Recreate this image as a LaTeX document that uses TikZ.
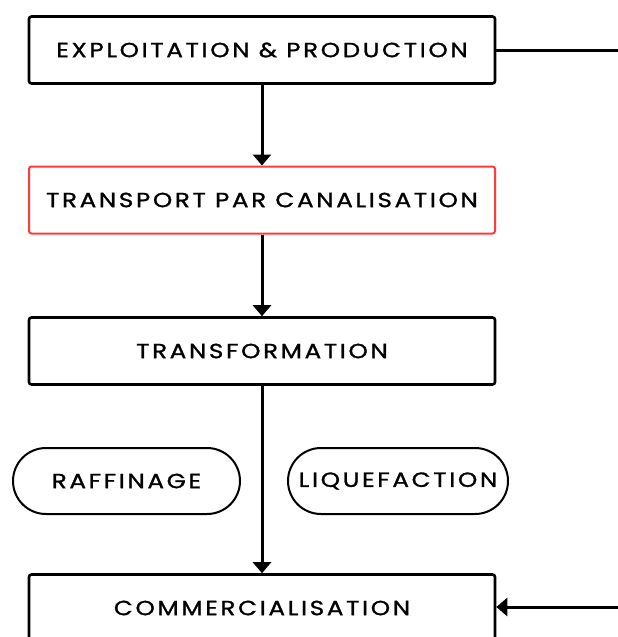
\documentclass[tikz,border=0pt]{standalone}
\usepackage{fontspec}
\setmainfont{Poppins}[LetterSpace=13, FakeBold=1.2, FakeStretch=1.2]
\usetikzlibrary{arrows.meta, shapes.misc}

\begin{document}
\begin{tikzpicture}[x=1pt, y=-1pt, font=\fontsize{20.5}{24}\selectfont,
  stage/.style={draw, line width=2.6pt, rounded corners=2.5pt, minimum width=466pt, minimum height=67pt, inner sep=0pt},
  pill/.style={draw, line width=2pt, rounded rectangle, minimum height=66pt, inner sep=0pt},
  flow/.style={line width=3pt, -{Triangle[width=18pt,length=11pt]}}]

\clip (0,0) rectangle (618,637);
\fill[white] (0,0) rectangle (618,637);

% chain of stages
\node[stage] (exploit) at (262,50) {EXPLOITATION \& PRODUCTION};
\node[stage, draw={rgb,255:red,255;green,59;blue,59}, line width=2pt] (transport) at (262,200) {TRANSPORT PAR CANALISATION};
\node[stage] (transfo) at (262,351) {TRANSFORMATION};
\node[stage] (commerce) at (262,608) {COMMERCIALISATION};

% transformation types
\node[pill, minimum width=227pt] (raffinage) at (126.5,481) {RAFFINAGE};
\node[pill, minimum width=220pt] (liquefaction) at (398,481) {LIQUEFACTION};

\draw[flow] (exploit) -- (transport);
\draw[flow] (transport) -- (transfo);
\draw[flow] (transfo) -- (commerce);

% side link
\coordinate (outA) at (620,50);
\coordinate (outB) at (620,607);
\draw[line width=3pt] (exploit.east) -- (outA);
\draw[flow] (outB) -- (commerce.east |- outB);

\end{tikzpicture}
\end{document}
